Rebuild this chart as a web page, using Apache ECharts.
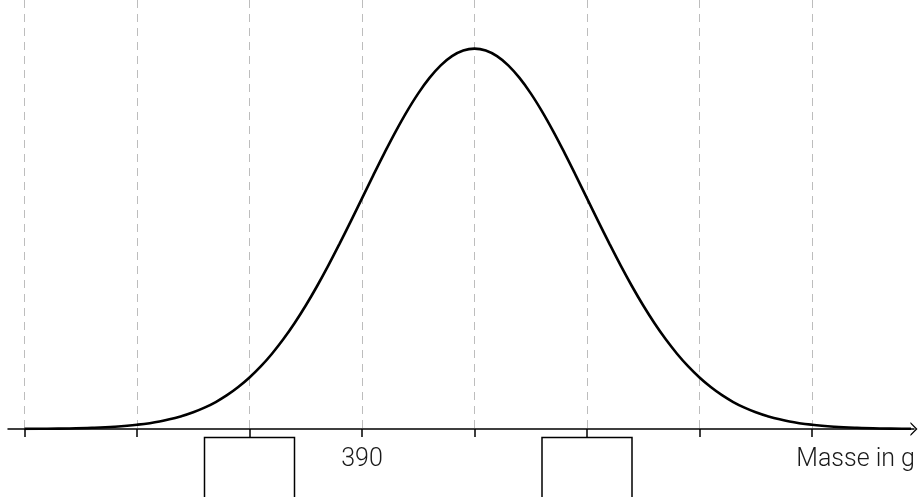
<!DOCTYPE html>
<html><head><meta charset="utf-8">
<script src="https://cdn.jsdelivr.net/npm/echarts@6/dist/echarts.min.js"></script>
<style>html,body{margin:0;padding:0;background:#fff}#c{width:918px;height:497px}</style>
</head><body><div id="c"></div>
<script>
// Masse (g) and density (mean 395, one tick = 5 g)
const massX = [375,376,377,378,379,380,381,382,382.5,383,383.5,384,384.5,385,385.5,386,386.5,387,387.5,388,388.5,
  389,389.5,390,390.5,391,391.5,392,392.5,393,393.5,394,394.5,395,395.5,396,396.5,397,397.5,398,398.5,399,399.5,
  400,400.5,401,401.5,402,402.5,403,403.5,404,404.5,405,405.5,406,406.5,407,407.5,408,409,410,411,412,413,414,414.4];
const densityY = [0.00003,0.00006,0.00012,0.00025,0.00048,0.00089,0.00158,0.00272,0.00351,0.00448,0.00566,0.00709,0.00880,
  0.01080,0.01312,0.01579,0.01881,0.02218,0.02590,0.02995,0.03427,0.03884,0.04357,0.04839,0.05322,0.05794,0.06245,
  0.06664,0.07041,0.07365,0.07628,0.07821,0.07939,0.07979,0.07939,0.07821,0.07628,0.07365,0.07041,0.06664,0.06245,
  0.05794,0.05322,0.04839,0.04357,0.03884,0.03427,0.02995,0.02590,0.02218,0.01881,0.01579,0.01312,0.01080,0.00880,
  0.00709,0.00566,0.00448,0.00351,0.00272,0.00158,0.00089,0.00048,0.00025,0.00012,0.00006,0.00004];
const tickValues = [375,380,385,390,395,400,405,410];
const labelValues = [390];
const boxRanges = [[383,387],[398,402]];
const axisName = 'Masse in g';

const chart = echarts.init(document.getElementById('c'), null, {renderer:'canvas'});
const FONT = 'Roboto, "Liberation Sans", sans-serif';
chart.setOption({
  animation:false,
  backgroundColor:'#fff',
  grid:{left:8,right:4,top:0,bottom:68,containLabel:false,outerBoundsMode:'none'},
  xAxis:{
    type:'value', min:374.2667, max:414.5333,
    axisLine:{onZero:false, lineStyle:{color:'#000',width:1.5},
      symbol:['none','path://M0,7 L7,0 L14,7 L12.2,7 L7,1.8 L1.8,7 Z'], symbolSize:[14,7]},
    axisTick:{show:true, customValues:tickValues, length:8, lineStyle:{color:'#000',width:1.5}},
    axisLabel:{show:true, customValues:labelValues, margin:18, fontSize:25, fontWeight:300, fontFamily:FONT, color:'#1a1a1a', verticalAlign:'top'},
    splitLine:{show:false},
    name:axisName, nameLocation:'end', nameGap:1,
    nameTextStyle:{align:'right', verticalAlign:'top', padding:[18,0,0,0], fontSize:25, fontWeight:300, fontFamily:FONT, color:'#1a1a1a'}
  },
  yAxis:{type:'value', min:0, max:0.09, show:false, splitLine:{show:false}},
  series:[
    {type:'line', data:massX.map((x,i)=>[x,densityY[i]]), smooth:0.4, symbol:'none',
     lineStyle:{color:'#000',width:2.6}, z:5,
     markLine:{silent:true, symbol:['none','none'], label:{show:false},
       lineStyle:{color:'#bdbdbd', type:[8,6], width:1},
       data: tickValues.map(v=>[{coord:[v,0.09]},{coord:[v,0]}])}
    },
    {type:'custom', coordinateSystem:'cartesian2d', data:boxRanges, clip:false, z:6,
     renderItem:function(params, api){
       const a = api.coord([api.value(0),0]);
       const b = api.coord([api.value(1),0]);
       const top = a[1] + 8.5;
       return {type:'rect', shape:{x:a[0], y:top, width:b[0]-a[0], height:200},
         style:{fill:'none', stroke:'#000', lineWidth:1.5}};
     }}
  ]
});
</script></body></html>
